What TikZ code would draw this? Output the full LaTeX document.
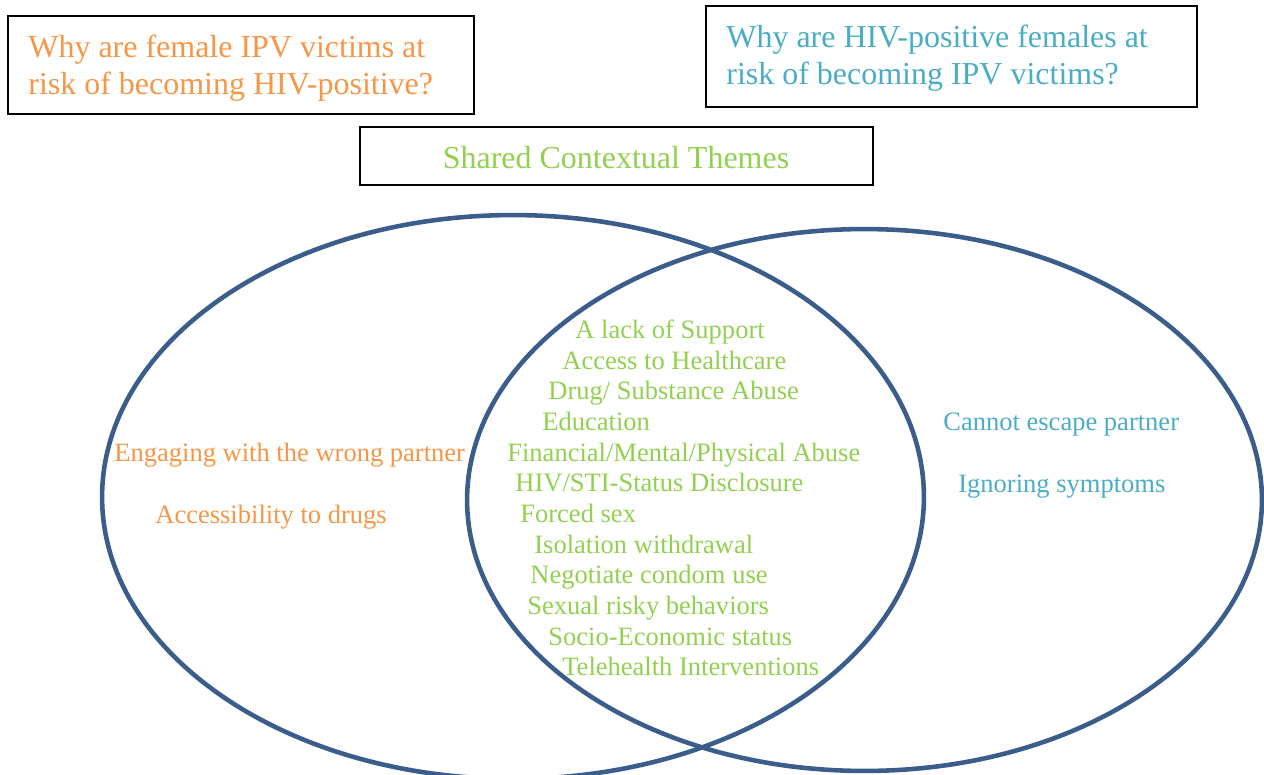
\documentclass[tikz,border=0pt]{standalone}
\usepackage{fontspec}
\setmainfont{Liberation Serif}
\definecolor{qorange}{HTML}{F79646}
\definecolor{qaqua}{HTML}{4BACC6}
\definecolor{qgreen}{HTML}{92D050}
\definecolor{vennline}{HTML}{3A5D8B}
\tikzset{
  qbox/.style={draw=black, line width=1.1pt},
  bigtxt/.style={inner sep=0pt, anchor=base west, font=\fontsize{18.2pt}{21pt}\selectfont},
  itemtxt/.style={inner sep=0pt, anchor=base west, font=\fontsize{15.1pt}{17.5pt}\selectfont},
  venn/.style={draw=vennline, line width=2.6pt},
}
\begin{document}
\begin{tikzpicture}[x=0.02cm,y=-0.02cm]
\useasboundingbox (0,0) rectangle (1264,774);
% boxes
\draw[qbox] (8,16) rectangle (474,114);
\draw[qbox] (706,6) rectangle (1197,107);
\draw[qbox] (360,127) rectangle (873,185);
\node[bigtxt, text=qorange] (q1a) at (28,57.5) {Why are female IPV victims at};
\node[bigtxt, text=qorange] (q1b) at (28,94.5) {risk of becoming HIV-positive?};
\node[bigtxt, text=qaqua] (q2a) at (726,47) {Why are HIV-positive females at};
\node[bigtxt, text=qaqua] (q2b) at (726,84) {risk of becoming IPV victims?};
\node[inner sep=0pt, font=\fontsize{18.2pt}{21pt}\selectfont, text=qgreen] (shared) at (616,158) {Shared Contextual Themes};
% ellipses
\draw[venn] (513,497) ellipse [x radius=8.22cm, y radius=5.64cm];
\draw[venn] (864.5,500) ellipse [x radius=7.95cm, y radius=5.42cm];
% left texts
\node[itemtxt, text=qorange] (l1) at (114,461) {Engaging with the wrong partner};
\node[itemtxt, text=qorange] (l2) at (155,523) {Accessibility to drugs};
% right texts
\node[itemtxt, text=qaqua] (r1) at (943,430) {Cannot escape partner};
\node[itemtxt, text=qaqua] (r2) at (958,492) {Ignoring symptoms};
% shared items
\node[itemtxt, text=qgreen] (s1) at (575,338) {A lack of Support};
\node[itemtxt, text=qgreen] (s2) at (562,369) {Access to Healthcare};
\node[itemtxt, text=qgreen] (s3) at (548,399) {Drug/ Substance Abuse};
\node[itemtxt, text=qgreen] (s4) at (542,430) {Education};
\node[itemtxt, text=qgreen] (s5) at (507,461) {Financial/Mental/Physical Abuse};
\node[itemtxt, text=qgreen] (s6) at (515,491) {HIV/STI-Status Disclosure};
\node[itemtxt, text=qgreen] (s7) at (520,522) {Forced sex};
\node[itemtxt, text=qgreen] (s8) at (534,553) {Isolation withdrawal};
\node[itemtxt, text=qgreen] (s9) at (530,583) {Negotiate condom use};
\node[itemtxt, text=qgreen] (s10) at (527,614) {Sexual risky behaviors};
\node[itemtxt, text=qgreen] (s11) at (548,645) {Socio-Economic status};
\node[itemtxt, text=qgreen] (s12) at (562,675) {Telehealth Interventions};
\end{tikzpicture}
\end{document}
